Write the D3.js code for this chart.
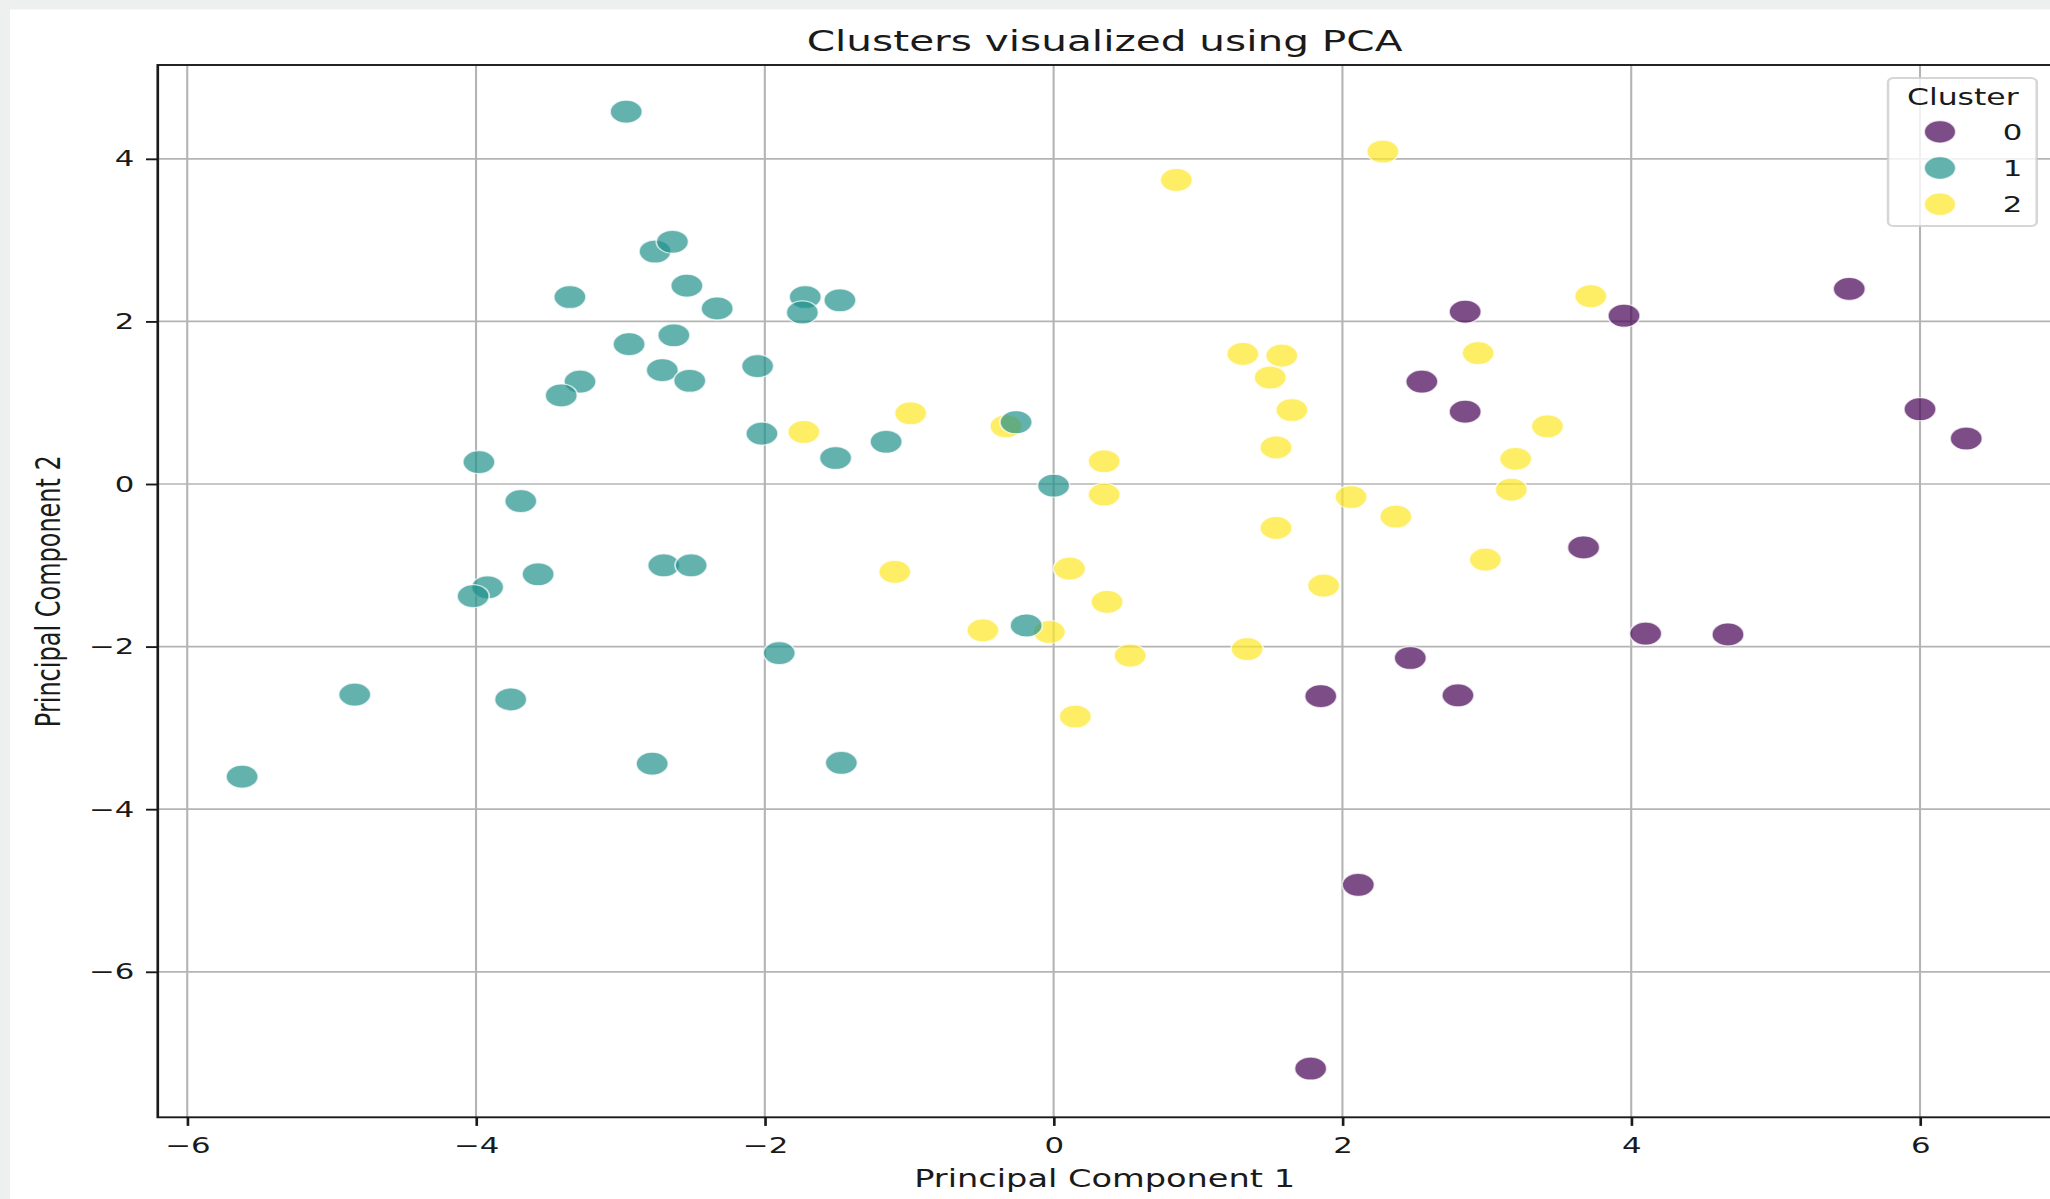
<!DOCTYPE html>
<html>
<head>
<meta charset="utf-8">
<script src="https://cdn.jsdelivr.net/npm/d3@7"></script>
<style>
  body { margin: 0; background: #eef0ef; overflow: hidden; }
  svg { display: block; }
  text { font-family: "DejaVu Sans", sans-serif; fill: #1a1a1a; }
</style>
</head>
<body>
<div class="wrapper"></div>
<script>
// pca coordinates of each cluster as [pc1, pc2]
var cluster0 = [
  [2.85, 2.12], [3.95, 2.07], [5.51, 2.40], [2.55, 1.26], [2.85, 0.89],
  [6.00, 0.92], [6.32, 0.56], [3.67, -0.78], [4.10, -1.84], [4.67, -1.85],
  [2.47, -2.14], [2.80, -2.60], [1.85, -2.61], [2.11, -4.93], [1.78, -7.19]
];
var cluster1 = [
  [-2.96, 4.58], [-2.76, 2.86], [-2.64, 2.98], [-3.35, 2.30], [-2.54, 2.44],
  [-2.33, 2.16], [-1.72, 2.30], [-1.74, 2.11], [-1.48, 2.26], [-2.94, 1.72],
  [-2.63, 1.83], [-2.71, 1.40], [-2.52, 1.27], [-3.28, 1.26], [-3.41, 1.09],
  [-2.05, 1.45], [-2.02, 0.62], [-1.51, 0.32], [-1.16, 0.52], [-0.26, 0.76],
  [0.0, -0.02], [-3.98, 0.27], [-3.69, -0.21], [-3.92, -1.27], [-4.02, -1.38],
  [-3.57, -1.11], [-2.70, -1.0], [-2.51, -1.0], [-1.90, -2.08], [-0.19, -1.74],
  [-4.84, -2.59], [-3.76, -2.65], [-5.62, -3.60], [-2.78, -3.44], [-1.47, -3.43]
];
var cluster2 = [
  [-1.73, 0.64], [-0.99, 0.87], [-0.33, 0.71], [0.85, 3.74], [2.28, 4.09],
  [1.31, 1.60], [1.58, 1.58], [1.50, 1.31], [1.65, 0.91], [1.54, 0.45],
  [0.35, 0.28], [0.35, -0.13], [2.06, -0.16], [2.37, -0.40], [1.54, -0.54],
  [-1.10, -1.08], [0.11, -1.04], [1.87, -1.25], [0.37, -1.45], [-0.49, -1.80],
  [-0.03, -1.82], [0.53, -2.11], [1.34, -2.03], [0.15, -2.86], [3.72, 2.31],
  [2.94, 1.61], [3.42, 0.71], [3.20, 0.31], [3.17, -0.07], [2.99, -0.93]
];
var clusterNames = ["0", "1", "2"];
var xTicks = [-6, -4, -2, 0, 2, 4, 6];
var yTicks = [-6, -4, -2, 0, 2, 4];
var xDomain = [-6.204, 6.91];
var yDomain = [-7.79, 5.154];

// the screenshot is stretched sideways, so draw narrow and let the viewBox widen it
var ultimatew = 2050,
  ultimateh = 1199,
  stretch = 1.4,
  innerw = ultimatew / stretch;

var plot = { left: 112.7, right: 1465.3, top: 65, bottom: 1117.3 };

var color = d3
  .scaleOrdinal()
  .domain(clusterNames)
  .range([0, 0.5, 1].map(d3.interpolateViridis));

var x = d3.scaleLinear().domain(xDomain).range([plot.left, plot.right]);
var y = d3.scaleLinear().domain(yDomain).range([plot.bottom, plot.top]);

var svg = d3
  .select(".wrapper")
  .append("svg")
  .attr("width", ultimatew)
  .attr("height", ultimateh)
  .attr("viewBox", "0 0 " + innerw + " " + ultimateh)
  .attr("preserveAspectRatio", "none");

// white figure, the grey edge of the screenshot stays at top and left
svg
  .append("rect")
  .attr("x", 10 / stretch)
  .attr("y", 9.5)
  .attr("width", innerw)
  .attr("height", ultimateh)
  .attr("fill", "#fff");

// grid
var grid = svg.append("g").attr("class", "grid");
grid
  .selectAll(".vline")
  .data(xTicks)
  .enter()
  .append("line")
  .attr("x1", function(d) { return x(d); })
  .attr("x2", function(d) { return x(d); })
  .attr("y1", plot.top)
  .attr("y2", plot.bottom)
  .attr("stroke", "#b4b4b4")
  .attr("stroke-width", 1.5);
grid
  .selectAll(".hline")
  .data(yTicks)
  .enter()
  .append("line")
  .attr("x1", plot.left)
  .attr("x2", plot.right)
  .attr("y1", function(d) { return y(d); })
  .attr("y2", function(d) { return y(d); })
  .attr("stroke", "#b4b4b4")
  .attr("stroke-width", 1.7);

// points, yellow first so the teal sits on top where they touch
var series = [
  { name: "2", points: cluster2 },
  { name: "1", points: cluster1 },
  { name: "0", points: cluster0 }
];
series.forEach(function(s) {
  svg
    .append("g")
    .attr("class", "cluster c" + s.name)
    .selectAll("circle")
    .data(s.points)
    .enter()
    .append("circle")
    .attr("cx", function(d) { return x(d[0]); })
    .attr("cy", function(d) { return y(d[1]); })
    .attr("r", 11.5)
    .attr("fill", color(s.name))
    .attr("fill-opacity", 0.7)
    .attr("stroke", "#fff")
    .attr("stroke-opacity", 0.7)
    .attr("stroke-width", 1.3);
});

// axes
var xAxis = svg
  .append("g")
  .attr("class", "axis xAxis")
  .attr("transform", "translate(0," + plot.bottom + ")")
  .call(d3.axisBottom(x).tickValues(xTicks).tickSize(8.6).tickSizeOuter(0).tickPadding(11));
var yAxis = svg
  .append("g")
  .attr("class", "axis yAxis")
  .attr("transform", "translate(" + plot.left + ",0)")
  .call(d3.axisLeft(y).tickValues(yTicks).tickSize(8.4).tickSizeOuter(0).tickPadding(8.4));

svg.selectAll(".axis .domain").remove();
svg
  .selectAll(".axis")
  .attr("font-family", "DejaVu Sans")
  .attr("font-size", 22)
  .attr("color", "#1a1a1a");
svg.selectAll(".axis line").attr("stroke-width", 1.9);

// frame
svg
  .append("rect")
  .attr("x", plot.left)
  .attr("y", plot.top)
  .attr("width", plot.right - plot.left)
  .attr("height", plot.bottom - plot.top)
  .attr("fill", "none")
  .attr("stroke", "#1a1a1a")
  .attr("stroke-width", 1.9);

// titles
var midX = (plot.left + plot.right) / 2;
svg
  .append("text")
  .attr("x", midX)
  .attr("y", 51.5)
  .attr("text-anchor", "middle")
  .attr("font-size", 29)
  .text("Clusters visualized using PCA");
svg
  .append("text")
  .attr("x", midX)
  .attr("y", 1187)
  .attr("text-anchor", "middle")
  .attr("font-size", 24)
  .text("Principal Component 1");
svg
  .append("text")
  .attr("transform", "translate(" + 42.9 + "," + (plot.top + plot.bottom) / 2 + ") rotate(-90)")
  .attr("text-anchor", "middle")
  .attr("font-size", 24)
  .text("Principal Component 2");

// legend
var legend = svg.append("g").attr("class", "legend");
legend
  .append("rect")
  .attr("x", 1348.6)
  .attr("y", 78)
  .attr("width", 106.2)
  .attr("height", 148)
  .attr("rx", 4)
  .attr("fill", "#fff")
  .attr("fill-opacity", 0.8)
  .attr("stroke", "#cccccc")
  .attr("stroke-opacity", 0.8)
  .attr("stroke-width", 1.8);
legend
  .append("text")
  .attr("x", 1402)
  .attr("y", 105)
  .attr("text-anchor", "middle")
  .attr("font-size", 22.5)
  .text("Cluster");

var rows = legend
  .selectAll(".row")
  .data(clusterNames)
  .enter()
  .append("g")
  .attr("class", "row")
  .attr("transform", function(d, i) {
    return "translate(0," + (131.8 + i * 36.2) + ")";
  });
rows
  .append("circle")
  .attr("cx", 1385.7)
  .attr("r", 11.3)
  .attr("fill", function(d) { return color(d); })
  .attr("fill-opacity", 0.7)
  .attr("stroke", "#fff")
  .attr("stroke-opacity", 0.7)
  .attr("stroke-width", 1.3);
rows
  .append("text")
  .attr("x", 1430.5)
  .attr("y", 8.2)
  .attr("font-size", 22)
  .text(function(d) { return d; });
</script>
</body>
</html>
